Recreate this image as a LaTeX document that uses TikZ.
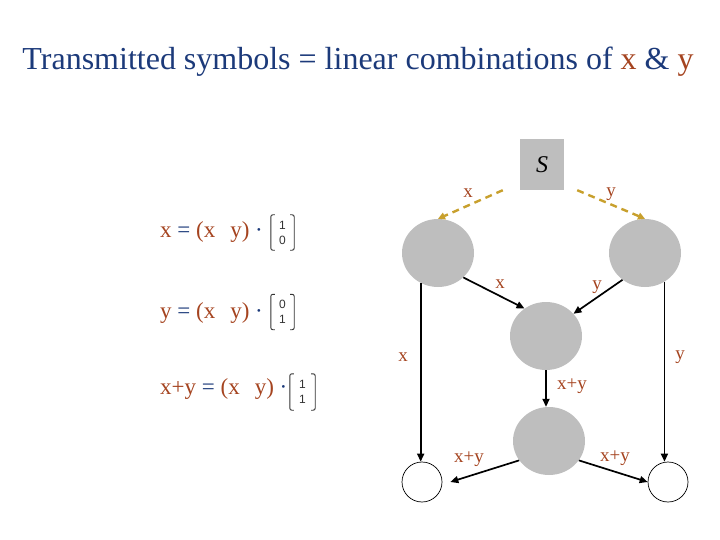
\documentclass[tikz,border=0pt]{standalone}
\usepackage{fontspec}
\setmainfont{Liberation Serif}
\newfontfamily\numfont{Liberation Sans}
\usetikzlibrary{arrows.meta,shapes.geometric}
\definecolor{titleblue}{RGB}{28,58,122}
\definecolor{symbrown}{RGB}{165,68,32}
\definecolor{dashgold}{RGB}{200,160,45}
\definecolor{nodegray}{RGB}{190,190,190}
\begin{document}
\begin{tikzpicture}[x=1pt,y=-1pt,
  graynode/.style={ellipse,fill=nodegray,minimum width=72pt,minimum height=68pt,inner sep=0pt},
  sinknode/.style={circle,draw=black,line width=0.7pt,minimum size=40pt,inner sep=0pt},
  srcbox/.style={rectangle,fill=nodegray,minimum width=44pt,minimum height=51pt,inner sep=0pt},
  flow/.style={-{Triangle[length=8pt,width=7pt]},line width=1.7pt,black},
  bcast/.style={-{Triangle[length=7pt,width=7pt]},line width=2.4pt,dashgold,dash pattern=on 7pt off 5pt},
  lbl/.style={text=symbrown,font=\fontsize{19}{22}\selectfont,inner sep=0pt},
  eq/.style={anchor=west,inner sep=0pt,font=\fontsize{23}{27}\selectfont},
  vecnum/.style={font=\numfont\fontsize{12}{15}\selectfont,text=black!80,align=center,minimum width=23pt,minimum height=35pt,inner sep=0pt},
  bracket/.style={line width=0.9pt,black!80,rounded corners=2pt}
]
\useasboundingbox (0,0) rectangle (720,540);
\node[font=\fontsize{32}{38}\selectfont,text=titleblue] (title) at (358,62) {Transmitted symbols = linear combinations of \textcolor{symbrown}{x} \& \textcolor{symbrown}{y}};

% nodes
\node[srcbox] (S) at (542,164.5) {\raisebox{-2pt}{\fontsize{24}{28}\selectfont\itshape S}};
\node[graynode] (A) at (438,253) {};
\node[graynode] (B) at (645,253) {};
\node[graynode] (C) at (546,336) {};
\node[graynode] (D) at (549,441) {};
\node[sinknode] (E) at (422,482) {};
\node[sinknode] (F) at (668,482) {};

% broadcast
\draw[bcast] ([xshift=-17pt]S.south west) -- (A.north);
\draw[bcast] ([xshift=13pt]S.south east) -- (B.north);
\node[lbl] (lx1) at (468,193) {x};
\node[lbl] (ly1) at (611,194) {y};

% flows
\draw[flow] (A.-44) -- (C.128);
\draw[flow] (B.230) -- (C.39);
\draw[flow] (C.south) -- (C.south |- D.north);
\draw[flow] (A.240) -- (A.240 |- E.north);
\draw[flow] (B.304) -- (B.304 |- F.north);
\draw[flow] (D.213) -- ([xshift=8pt]E.east);
\draw[flow] (D.327) -- (F.west);
\node[lbl] (lx2) at (500,284) {x};
\node[lbl] (ly2) at (597,287) {y};
\node[lbl] (lxy1) at (572,386) {x+y};
\node[lbl] (lx3) at (403,357) {x};
\node[lbl] (ly3) at (680,357) {y};
\node[lbl] (lxy2) at (469,459) {x+y};
\node[lbl] (lxy3) at (615,458) {x+y};

% equations
\node[eq] (eq1) at (160,232) {\textcolor{symbrown}{x} \textcolor{titleblue}{=} \textcolor{symbrown}{(x\hspace{15pt}y)} \textcolor{titleblue}{·}};
\node[eq] (eq2) at (160,313) {\textcolor{symbrown}{y} \textcolor{titleblue}{=} \textcolor{symbrown}{(x\hspace{15pt}y)} \textcolor{titleblue}{·}};
\node[eq] (eq3) at (160,389) {\textcolor{symbrown}{x+y} \textcolor{titleblue}{=} \textcolor{symbrown}{(x\hspace{15pt}y)} \textcolor{titleblue}{·}};

\node[vecnum] (m1) at (282.5,232.5) {1\\0};
\node[vecnum] (m2) at (282.5,312) {0\\1};
\node[vecnum,minimum width=25pt,minimum height=36pt] (m3) at (302.5,392) {1\\1};
\foreach \m in {m1,m2,m3}{
  \draw[bracket] ([xshift=4pt]\m.north west) -- (\m.north west) -- (\m.south west) -- ([xshift=4pt]\m.south west);
  \draw[bracket] ([xshift=-4pt]\m.north east) -- (\m.north east) -- (\m.south east) -- ([xshift=-4pt]\m.south east);
}
\end{tikzpicture}
\end{document}
